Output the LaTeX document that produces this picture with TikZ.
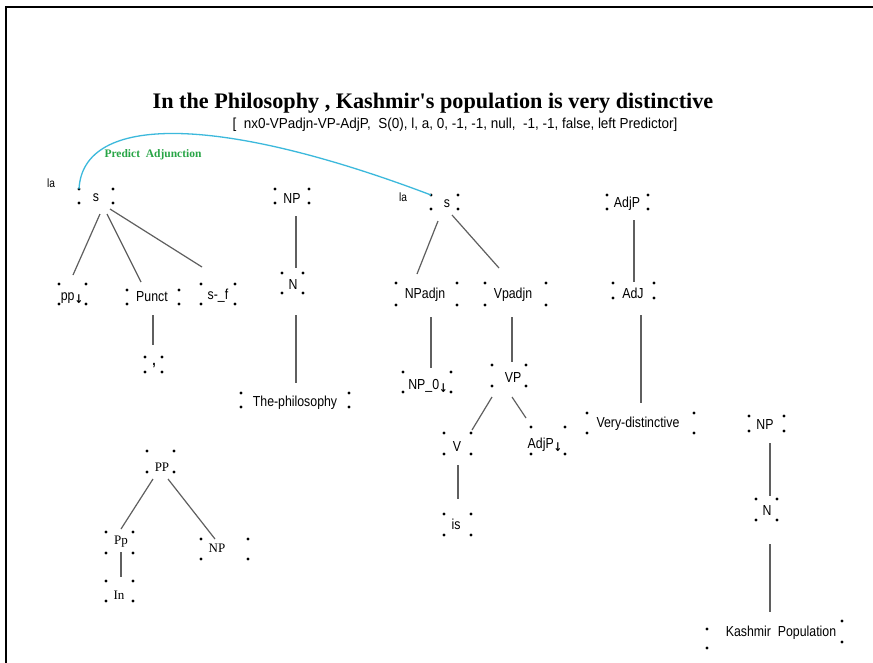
\documentclass[tikz,border=0pt]{standalone}
\usepackage{graphicx}
\usepackage{fontspec}
\setmainfont{Liberation Serif}
\setsansfont{Liberation Sans}
\newfontfamily\arrowfont{DejaVu Sans}
\usetikzlibrary{calc}

\definecolor{adjlink}{RGB}{60,185,220}
\definecolor{adjtext}{RGB}{40,165,70}
\definecolor{edgegray}{RGB}{95,95,95}

% substitution-node marker
\newcommand\subst{\raisebox{-3.5pt}{\arrowfont\bfseries\fontsize{12}{12}\selectfont ↓}}
% horizontal squeeze of the sans labels
\newcommand\lblx{0.85}
\newcommand\sqz[1]{\scalebox{\lblx}[1]{#1}}

\tikzset{
  frame/.style={line width=2.5pt, line cap=rect},
  box/.style={inner sep=0pt, outer sep=0pt, draw=none},
  lbl/.style={font=\sffamily\fontsize{14.5}{16}\selectfont, inner sep=0pt,
              text height=10.4pt, text depth=0pt},
  serif lbl/.style={lbl/.append style={font=\rmfamily\fontsize{13}{15}\selectfont,
              text height=8.6pt}},
  small/.style={font=\sffamily\fontsize{12}{14}\selectfont, inner sep=0pt},
  edge/.style={draw=edgegray, line width=1.2pt},
  link/.style={draw=adjlink, line width=1.3pt},
}

% tree node: name, x1, y1, x2, y2 (corner dots), text x, text y, text
\newcommand\tn[8]{%
  \node[box, minimum width={(#4-#2)*1pt}, minimum height={(#5-#3)*1pt}]
       (#1) at ({(#2+#4)/2},{(#3+#5)/2}) {};
  \foreach \c in {north west,north east,south west,south east}
    \fill (#1.\c) circle (1.7pt);
  \node[lbl] (#1-t) at (#6,#7) {\sqz{#8}};
}
% tree branch: parent, offset from its south west, child, offset from its north west
\newcommand\br[6]{%
  \draw[edge] ($(#1.south west)+(#2,#3)$) -- ($(#4.north west)+(#5,#6)$);}

\begin{document}
\begin{tikzpicture}[x=1pt, y=-1pt]
\useasboundingbox (0,0) rectangle (873,662);
\fill[white] (0,0) rectangle (873,662);
\draw[frame] (6,662) -- (6,7) -- (873,7);

% headings
\node[font=\rmfamily\bfseries\fontsize{22.2}{26}\selectfont, inner sep=0pt] (title) at (433,103)
  {In the Philosophy , Kashmir\textquotesingle s population is very distinctive};
\node[font=\sffamily\fontsize{14.5}{16}\selectfont, inner sep=0pt] (info) at (455,125)
  {\scalebox{0.93}[1]{[~ nx0-VPadjn-VP-AdjP,~ S(0), l, a, 0, -1, -1, null,~ -1, -1, false, left Predictor]}};

% first elementary tree
\tn{s1}{79}{189}{113}{203}{96}{196}{s}
\node[small] (la1) at (51,183) {\sqz{la}};
\tn{pp}{59}{284}{86}{304}{72}{295}{pp\subst}
\tn{punct}{127}{290}{179}{304}{152}{296}{Punct}
\tn{sf}{201}{284}{235}{304}{218}{294}{s-\_f}
\tn{comma}{145}{357}{162}{372}{154}{360}{\textbf{,}}
\br{s1}{21}{11}{pp}{14}{-9}
\br{s1}{28}{11}{punct}{14}{-8}
\br{s1}{31}{6}{sf}{1}{-17}
\br{punct}{26}{11}{comma}{8}{-12}

% The-philosophy
\tn{np1}{275}{189}{309}{203}{292}{198}{NP}
\tn{n1}{282}{273}{303}{293}{293}{284}{N}
\tn{phil}{241}{393}{349}{407}{295}{401}{The-philosophy}
\br{np1}{21}{13}{n1}{14}{-5}
\br{n1}{14}{22}{phil}{55}{-10}

% nx0-VPadjn-VP-AdjP
\tn{s2}{431}{195}{458}{209}{447}{202}{s}
\node[small] (la2) at (403,197) {\sqz{la}};
\tn{npadjn}{396}{283}{457}{305}{425}{293}{NPadjn}
\tn{vpadjn}{485}{283}{546}{305}{513}{293}{Vpadjn}
\tn{np0}{403}{372}{451}{392}{428}{384}{NP\_0\subst}
\tn{vp}{492}{365}{526}{386}{513}{377}{VP}
\tn{v}{444}{433}{471}{454}{457}{446}{V}
\tn{adjpsub}{531}{427}{565}{454}{545}{443}{AdjP\subst}
\tn{is}{444}{514}{471}{535}{456}{524}{is}
\br{s2}{7}{12}{npadjn}{21}{-9}
\br{s2}{21}{6}{vpadjn}{14}{-15}
\br{npadjn}{35}{12}{np0}{28}{-4}
\br{vpadjn}{27}{12}{vp}{20}{-3}
\br{vp}{0}{11}{v}{28}{-3}
\br{vp}{20}{11}{adjpsub}{-5}{-9}
\br{v}{14}{11}{is}{14}{-15}

% Very-distinctive
\tn{adjp}{607}{195}{648}{209}{627}{202}{AdjP}
\tn{adj}{613}{283}{654}{298}{633}{293}{AdJ}
\tn{very}{587}{413}{694}{433}{638}{422}{Very-distinctive}
\br{adjp}{27}{11}{adj}{21}{-1}
\br{adj}{28}{17}{very}{54}{-10}

% Kashmir Population
\tn{np3}{749}{416}{784}{431}{765}{424}{NP}
\tn{n3}{756}{499}{777}{520}{767}{510}{N}
\node[box, minimum width=135pt, minimum height=27pt] (kash) at (774.5,634.5) {};
\foreach \p in {(707,629),(707,648),(842,621),(842,642)} \fill \p circle (1.7pt);
\node[lbl] (kash-t) at (781,631) {\sqz{Kashmir~ Population}};
\br{np3}{21}{12}{n3}{14}{-3}
\br{n3}{14}{24}{kash}{63}{-9}

% In ... NP
\begin{scope}[serif lbl]
\renewcommand\lblx{1}
\tn{ppr}{147}{451}{174}{472}{162}{467}{PP}
\tn{ppl}{106}{532}{133}{553}{121}{540}{Pp}
\tn{np4}{201}{539}{248}{559}{217}{548}{NP}
\tn{in}{106}{581}{133}{601}{119}{595}{In}
\br{ppr}{6}{7}{ppl}{15}{-3}
\br{ppr}{21}{7}{np4}{14}{0}
\br{ppl}{15}{-1}{in}{15}{-4}
\end{scope}

% adjunction prediction link
\draw[link] (s1.north west) .. controls +(4,-76) and +(-211,-80) .. (s2.north west);
\node[font=\rmfamily\bfseries\fontsize{11.5}{13}\selectfont, text=adjtext, inner sep=0pt]
  (padj) at (153,155) {Predict~ Adjunction};
\end{tikzpicture}
\end{document}
